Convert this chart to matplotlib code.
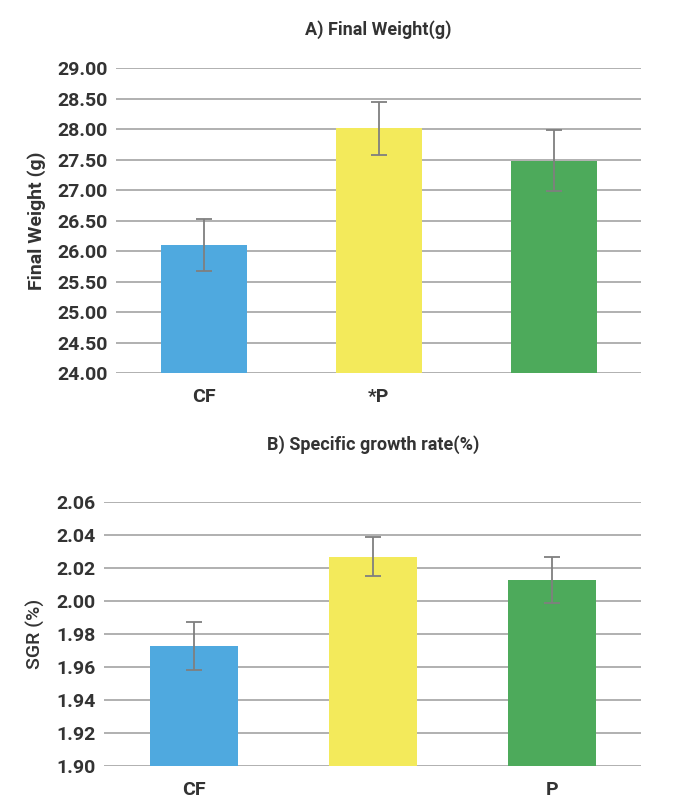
import matplotlib
matplotlib.use("Agg")
import matplotlib.pyplot as plt
import numpy as np

categories_a = ["CF", "*P", ""]
weight_mean = [26.10, 28.01, 27.48]
weight_err = [0.42, 0.43, 0.50]
ticks_a = [24.0, 24.5, 25.0, 25.5, 26.0, 26.5, 27.0, 27.5, 28.0, 28.5, 29.0]

categories_b = ["CF", "", "P"]
sgr_mean = [1.973, 2.027, 2.013]
sgr_err = [0.0145, 0.012, 0.014]
ticks_b = [1.90, 1.92, 1.94, 1.96, 1.98, 2.00, 2.02, 2.04, 2.06]

colors = ["#4FA9DF", "#F3EA5B", "#4DAA5B"]
fam = ["Liberation Sans Narrow", "Roboto", "DejaVu Sans"]
txt = "#333333"

fig = plt.figure(figsize=(7, 8.1), dpi=100)
axA = fig.add_axes([0.166, 0.5395, 0.750, 0.3765])
axB = fig.add_axes([0.149, 0.0543, 0.767, 0.3257])

def style(ax, ticks, fmt, ylabel, title, cats, ylab_weight, tpad):
    ax.set_ylim(ticks[0], ticks[-1])
    ax.set_yticks(ticks)
    ax.set_yticklabels([fmt.format(t) for t in ticks], family=fam, fontsize=14,
                       fontweight="bold", color=txt)
    ax.set_xticks(range(len(cats)))
    ax.set_xticklabels(cats, family=fam, fontsize=14, fontweight="bold", color=txt)
    ax.set_xlim(-0.5, len(cats) - 0.5)
    for s in ax.spines.values():
        s.set_visible(False)
    ax.tick_params(length=0, pad=6)
    ax.tick_params(axis="x", pad=11)
    ax.grid(axis="y", color="#AAAAAA", linewidth=1.3)
    ax.set_axisbelow(True)
    ax.set_ylabel(ylabel, family=fam, fontsize=14, fontweight=ylab_weight, color=txt, labelpad=8)
    ax.set_title(title, family=fam, fontsize=13, fontweight="bold", color=txt, pad=tpad)

x = np.arange(3)
axA.bar(x, weight_mean, width=0.49, color=colors, zorder=2)
axA.errorbar(x, weight_mean, yerr=weight_err, fmt="none", ecolor="#7F7F7F",
             elinewidth=1.3, capsize=6, capthick=1.3, zorder=3)
style(axA, ticks_a, "{:.2f}", "Final Weight (g)", "A) Final Weight(g)", categories_a, "bold", 24)

axB.bar(x, sgr_mean, width=0.49, color=colors, zorder=2)
axB.errorbar(x, sgr_mean, yerr=sgr_err, fmt="none", ecolor="#7F7F7F",
             elinewidth=1.3, capsize=6, capthick=1.3, zorder=3)
style(axB, ticks_b, "{:.2f}", "SGR (%)", "B) Specific growth rate(%)", categories_b, "medium", 38)

fig.savefig("out.png", dpi=100, facecolor="white")
